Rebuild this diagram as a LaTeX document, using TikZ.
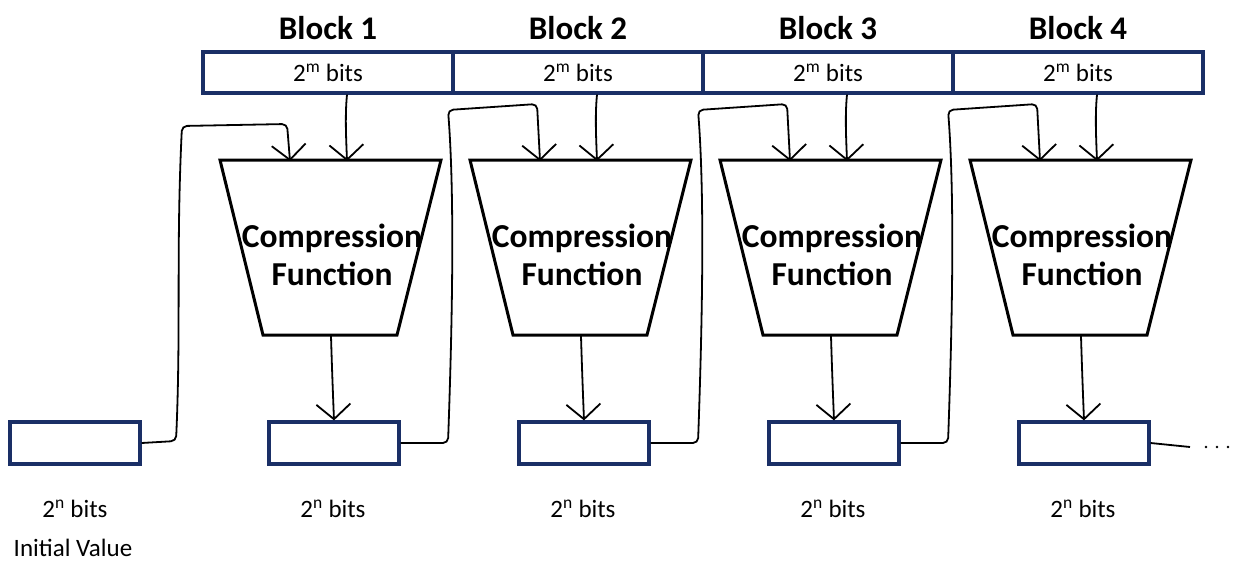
\documentclass[tikz,border=0pt]{standalone}
\usepackage{fontspec}
\setmainfont{Carlito}
\usetikzlibrary{arrows.meta}
\definecolor{navy}{HTML}{1A2F66}
\tikzset{
  bitbox/.style={draw=navy, line width=3.2pt, fill=white, inner sep=0pt, font=\fontsize{25}{27}\selectfont},
  msgbox/.style={bitbox, minimum width=250pt, minimum height=41pt},
  chainbox/.style={bitbox, minimum width=130pt, minimum height=42pt},
  title/.style={font=\bfseries\fontsize{33}{35}\selectfont},
  cftext/.style={font=\bfseries\fontsize{33.5}{38}\selectfont, align=center},
  label/.style={font=\fontsize{25}{27}\selectfont},
  press/.style={draw=black, line width=3pt, line join=miter},
  wire/.style={draw=black, line width=1.8pt, rounded corners=5pt,
    -{Straight Barb[length=15pt, width=34pt, line width=1.8pt]}},
  plainwire/.style={draw=black, line width=1.8pt, rounded corners=5pt},
}
\begin{document}
\begin{tikzpicture}[x=1pt, y=-1pt]
  \useasboundingbox (0,0) rectangle (1236,562);

  % initial value register
  \node[chainbox] (out0) at (75,443) {};
  \node[label] (lab0) at (75,509) {2\textsuperscript{n} bits};
  \node[label] (init) at (73,548) {Initial Value};

  \foreach \i [evaluate=\i as \dx using (\i-1)*250] in {1,...,4} {
    % message block
    \node[title] (title\i) at (328+\dx,28) {Block \i};
    \node[msgbox] (msg\i) at (328+\dx,72.5) {2\textsuperscript{m} bits};

    % compression function
    \coordinate (tl\i) at (220+\dx,160);
    \coordinate (tr\i) at (441+\dx,160);
    \coordinate (br\i) at (397+\dx,335);
    \coordinate (bl\i) at (263+\dx,335);
    \draw[press] (tl\i) -- (tr\i) -- (br\i) -- (bl\i) -- cycle;
    \node[cftext] (cf\i) at (332+\dx,255) {Compression\\Function};
    \coordinate (inh\i) at (290+\dx,161);
    \coordinate (inm\i) at (347+\dx,161);
    \coordinate (cfout\i) at (331+\dx,336);

    % chaining register
    \node[chainbox] (out\i) at (334+\dx,443) {};
    \node[label] (lab\i) at (333+\dx,509) {2\textsuperscript{n} bits};

    % message input
    \draw[wire] (msg\i.south -| inm\i) .. controls (345+\dx,115) and (346+\dx,135) .. (inm\i);
    % compression output
    \draw[wire] (cfout\i) .. controls (332+\dx,370) and (333+\dx,395) .. (out\i.north);
  }

  % chaining values fed forward
  \draw[wire] (out0.east) -- (176,441)
    .. controls (181,330) and (176,250) .. (182,126) -- (287,124) -- (inh1);
  \foreach \i [evaluate=\i as \dx using (\i-2)*250,
               evaluate=\i as \p using int(\i-1)] in {2,3,4} {
    \draw[wire] (out\p.east) -- (448+\dx,443)
      .. controls (452+\dx,330) and (455+\dx,200) .. (448+\dx,110)
      -- (537+\dx,104) -- (inh\i);
  }

  % continuation
  \draw[plainwire] (out4.east) -- (1190,447);
  \foreach \x in {1206,1217,1228} \fill (\x,447) circle (1.3pt);
\end{tikzpicture}
\end{document}
